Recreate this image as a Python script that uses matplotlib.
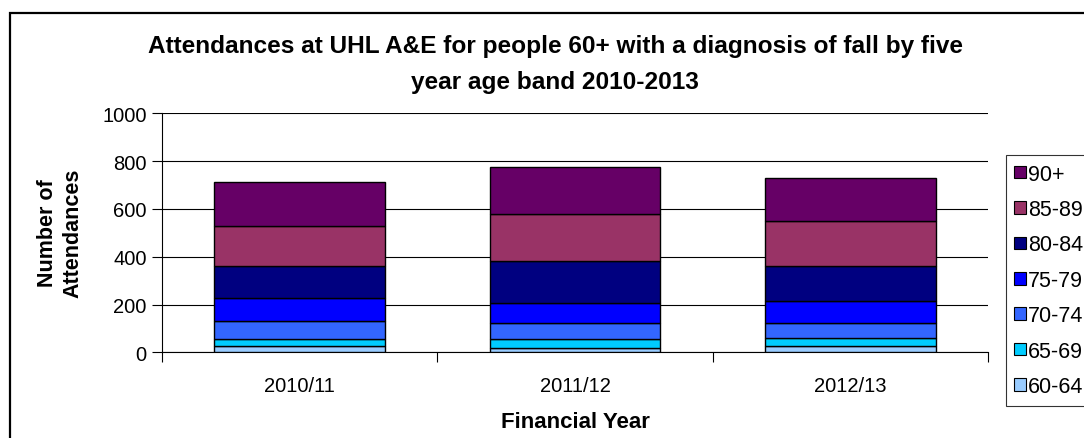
import matplotlib
matplotlib.use("Agg")
import matplotlib.pyplot as plt
from matplotlib.patches import Patch, Rectangle
import numpy as np

plt.rcParams['font.family'] = ['Liberation Sans', 'DejaVu Sans']

years = ["2010/11", "2011/12", "2012/13"]
bands = ["60-64", "65-69", "70-74", "75-79", "80-84", "85-89", "90+"]
v_60_64 = [25, 20, 25]
v_65_69 = [31, 36, 35]
v_70_74 = [75, 67, 63]
v_75_79 = [98, 85, 92]
v_80_84 = [134, 176, 146]
v_85_89 = [166, 195, 189]
v_90p = [185, 197, 178]
series = [v_60_64, v_65_69, v_70_74, v_75_79, v_80_84, v_85_89, v_90p]
colors = ["#99CCFF", "#00CCFF", "#3366FF", "#0000FF", "#000080", "#993366", "#660066"]
yticks = [0, 200, 400, 600, 800, 1000]

W, H = 1084, 439
fig = plt.figure(figsize=(W / 100, H / 100), dpi=100)
ax = fig.add_axes([162 / W, 1 - 353.3 / H, (988 - 162) / W, (353.3 - 114.3) / H])

x = np.arange(len(years))
bottom = np.zeros(len(years))
for vals, c in zip(series, colors):
    ax.bar(x, vals, width=0.62, bottom=bottom, color=c, edgecolor="black", linewidth=1.0, zorder=3)
    bottom += np.array(vals)

ax.set_xlim(-0.5, 2.5)
ax.set_ylim(0, 1000)
ax.set_yticks(yticks)
ax.set_yticklabels([str(t) for t in yticks], fontsize=14.5)
ax.yaxis.grid(True, color="black", linewidth=0.8, zorder=0)
ax.set_axisbelow(True)
ax.set_xticks(x)
ax.set_xticklabels(years, fontsize=14.5)
ax.tick_params(axis="x", which="major", length=0, pad=17)
ax.set_xticks([-0.5, 0.5, 1.5, 2.5], minor=True)
ax.tick_params(axis="x", which="minor", length=7, width=0.8, direction="out")
ax.tick_params(axis="y", length=7, width=0.8, direction="out", pad=4)
for s in ["top", "right"]:
    ax.spines[s].set_visible(False)
ax.spines["left"].set_linewidth(0.8)
ax.spines["bottom"].set_linewidth(0.8)

fig.text(555 / W, 1 - 47 / H, "Attendances at UHL A&E for people 60+ with a diagnosis of fall by five",
         ha="center", va="center", fontsize=17.6, fontweight="bold")
fig.text(555 / W, 1 - 82 / H, "year age band 2010-2013",
         ha="center", va="center", fontsize=17.6, fontweight="bold")
fig.text(60 / W, 1 - 233 / H, "Number of\nAttendances", rotation=90, ha="center", va="center",
         fontsize=15.5, fontweight="bold", linespacing=1.3)
fig.text(575 / W, 1 - 423 / H, "Financial Year", ha="center", va="center",
         fontsize=16, fontweight="bold")

handles = [Patch(facecolor=c, edgecolor="black", linewidth=0.8) for c in colors][::-1]
labels = bands[::-1]
leg = fig.legend(handles, labels, loc="upper left", bbox_to_anchor=(1005.7 / W, 1 - 156 / H),
                 fontsize=15.5, frameon=True, fancybox=False, edgecolor="black",
                 handlelength=0.52, handleheight=0.52, handletextpad=0.12,
                 labelspacing=0.67, borderpad=0.4, borderaxespad=0)
leg.get_frame().set_linewidth(0.8)

fig.patches.append(Rectangle((10 / W, -0.2), 1.5, 1.2 - 14 / H, transform=fig.transFigure,
                             fill=False, edgecolor="black", linewidth=1.6, clip_on=False))

fig.savefig("out.png", dpi=100)
